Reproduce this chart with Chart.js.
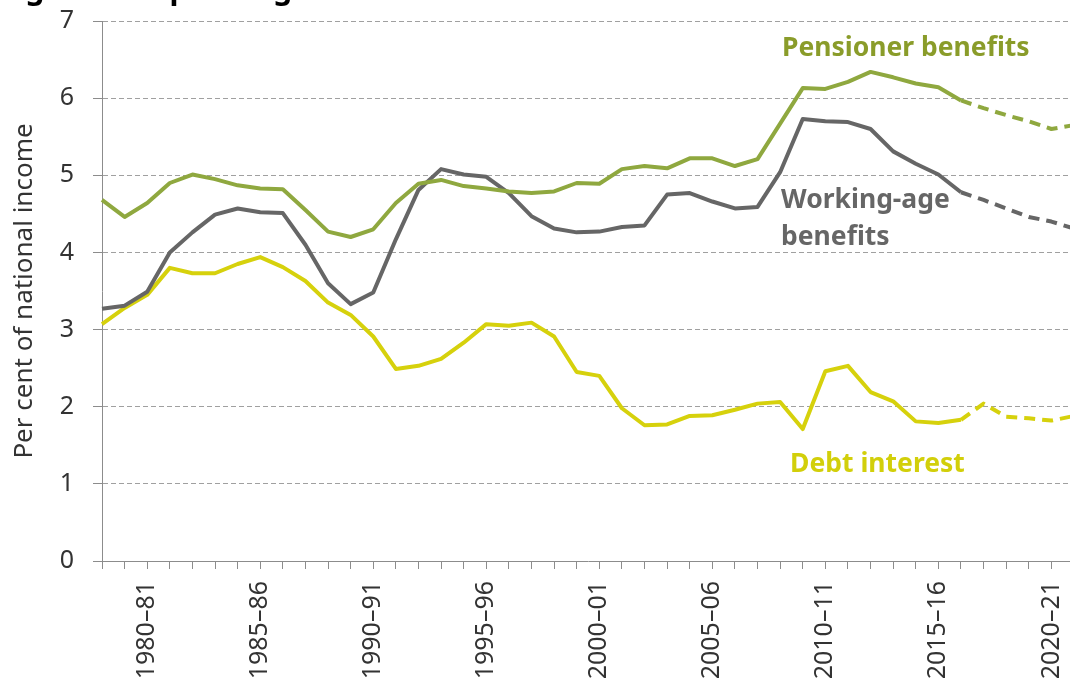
<!DOCTYPE html>
<html>
<head>
<meta charset="utf-8">
<script src="https://cdn.jsdelivr.net/npm/chart.js@4/dist/chart.umd.min.js"></script>
<style>
  html, body { margin: 0; padding: 0; background: #fff; overflow: hidden; width: 1070px; height: 684px; }
  #wrap { position: relative; width: 1080px; height: 684px; }
  #ttl { position: absolute; left: 0; top: -27px; font: bold 30px/30px "Noto Sans", sans-serif; color: #000; white-space: nowrap; }
  canvas { position: absolute; left: 0; top: 0; }
</style>
</head>
<body>
<div id="wrap">
  <canvas id="c" width="1080" height="684"></canvas>
  <div id="ttl">Figure 2.1 Spending on benefits and debt interest</div>
</div>
<script>
const years = [];
for (let y = 1978; y <= 2021; y++) {
  years.push(y + '\u2013' + String((y + 1) % 100).padStart(2, '0'));
}
const shownLabels = ['1980\u201381', '1985\u201386', '1990\u201391', '1995\u201396', '2000\u201301',
  '2005\u201306', '2010\u201311', '2015\u201316', '2020\u201321'];
const yTicks = [0, 1, 2, 3, 4, 5, 6, 7];

const pensioner = [4.68, 4.46, 4.64, 4.90, 5.01, 4.95, 4.87, 4.83, 4.82, 4.55,
  4.27, 4.20, 4.30, 4.64, 4.89, 4.94, 4.86, 4.83, 4.79, 4.77,
  4.79, 4.90, 4.89, 5.08, 5.12, 5.09, 5.22, 5.22, 5.12, 5.21,
  5.67, 6.13, 6.12, 6.21, 6.34, 6.27, 6.19, 6.14, 5.97, 5.87,
  5.78, 5.70, 5.60, 5.65];
const workingAge = [3.27, 3.31, 3.49, 4.00, 4.26, 4.49, 4.57, 4.52, 4.51, 4.10,
  3.60, 3.33, 3.48, 4.17, 4.81, 5.08, 5.01, 4.98, 4.77, 4.47,
  4.31, 4.26, 4.27, 4.33, 4.35, 4.75, 4.77, 4.66, 4.57, 4.59,
  5.04, 5.73, 5.70, 5.69, 5.60, 5.31, 5.15, 5.01, 4.78, 4.68,
  4.57, 4.46, 4.40, 4.31];
const debtInterest = [3.07, 3.28, 3.45, 3.80, 3.73, 3.73, 3.85, 3.94, 3.81, 3.63,
  3.35, 3.19, 2.91, 2.49, 2.53, 2.62, 2.83, 3.07, 3.05, 3.09,
  2.91, 2.45, 2.40, 1.98, 1.76, 1.77, 1.88, 1.89, 1.96, 2.04,
  2.06, 1.71, 2.46, 2.53, 2.19, 2.07, 1.81, 1.79, 1.83, 2.04,
  1.87, 1.85, 1.82, 1.88];
const forecastStart = '2016\u201317';

const FONT = '"Noto Sans", sans-serif';
const GREEN = '#8fa83f', GRAY = '#666666', YELLOW = '#d6d10c';

const fcIdx = years.indexOf(forecastStart);
const seg = { borderDash: ctx => (ctx.p0DataIndex >= fcIdx ? [11, 7] : undefined) };

function ds(label, data, color) {
  return { label, data, borderColor: color, backgroundColor: color, borderWidth: 4,
    pointRadius: 0, tension: 0, fill: false, segment: seg, borderJoinStyle: 'round', borderCapStyle: 'butt' };
}

const seriesLabels = [
  { lines: ['Pensioner benefits'], color: '#8a9c2a', x: 30.08, y: [6.54] },
  { lines: ['Working-age', 'benefits'], color: '#666666', x: 30.04, y: [4.58, 4.10] },
  { lines: ['Debt interest'], color: '#d2cf0a', x: 30.44, y: [1.16] }
];

const labelPlugin = {
  id: 'seriesLabels',
  afterDatasetsDraw(chart) {
    const { ctx, scales: { x, y } } = chart;
    ctx.save();
    ctx.font = 'bold 26.5px ' + FONT;
    ctx.textAlign = 'left';
    ctx.textBaseline = 'alphabetic';
    seriesLabels.forEach(l => {
      ctx.fillStyle = l.color;
      const px = x.getPixelForValue(l.x);
      l.lines.forEach((t, i) => ctx.fillText(t, px, y.getPixelForValue(l.y[i])));
    });
    ctx.restore();
  }
};

new Chart(document.getElementById('c'), {
  type: 'line',
  data: {
    labels: years,
    datasets: [
      ds('Pensioner benefits', pensioner, GREEN),
      ds('Working-age benefits', workingAge, GRAY),
      ds('Debt interest', debtInterest, YELLOW)
    ]
  },
  options: {
    responsive: false,
    animation: false,
    layout: { padding: 0 },
    plugins: { legend: { display: false }, tooltip: { enabled: false }, title: { display: false } },
    scales: {
      x: {
        offset: false,
        grid: { display: true, drawOnChartArea: false, drawTicks: true, tickLength: 8, color: '#8c8c8c' },
        border: { display: true, color: '#8c8c8c', width: 1 },
        ticks: {
          autoSkip: false, minRotation: 90, maxRotation: 90, padding: 12,
          color: '#333333', font: { family: FONT, size: 25 },
          callback(v, i) { const l = years[i]; return shownLabels.includes(l) ? l : ''; }
        },
        afterFit(s) { s.height = 123; s.paddingLeft = 0; s.paddingRight = 6; }
      },
      y: {
        min: 0, max: 7,
        afterBuildTicks(s) { s.ticks = yTicks.map(v => ({ value: v })); },
        grid: {
          color: c => (c.tick && c.tick.value === 0 ? 'rgba(0,0,0,0)' : '#a0a0a0'),
          tickColor: '#8c8c8c', tickLength: 9, lineWidth: 1
        },
        border: { display: true, color: '#8c8c8c', width: 1, dash: [5, 3] },
        ticks: { color: '#333333', font: { family: FONT, size: 25 }, padding: 19, stepSize: 1 },
        title: { display: true, text: 'Per cent of national income', color: '#333333',
          font: { family: FONT, size: 26 }, padding: { top: 9, bottom: 0 } },
        afterFit(s) { s.width = 102; s.paddingTop = 21; s.paddingBottom = 0; }
      }
    }
  },
  plugins: [labelPlugin]
});
</script>
</body>
</html>
